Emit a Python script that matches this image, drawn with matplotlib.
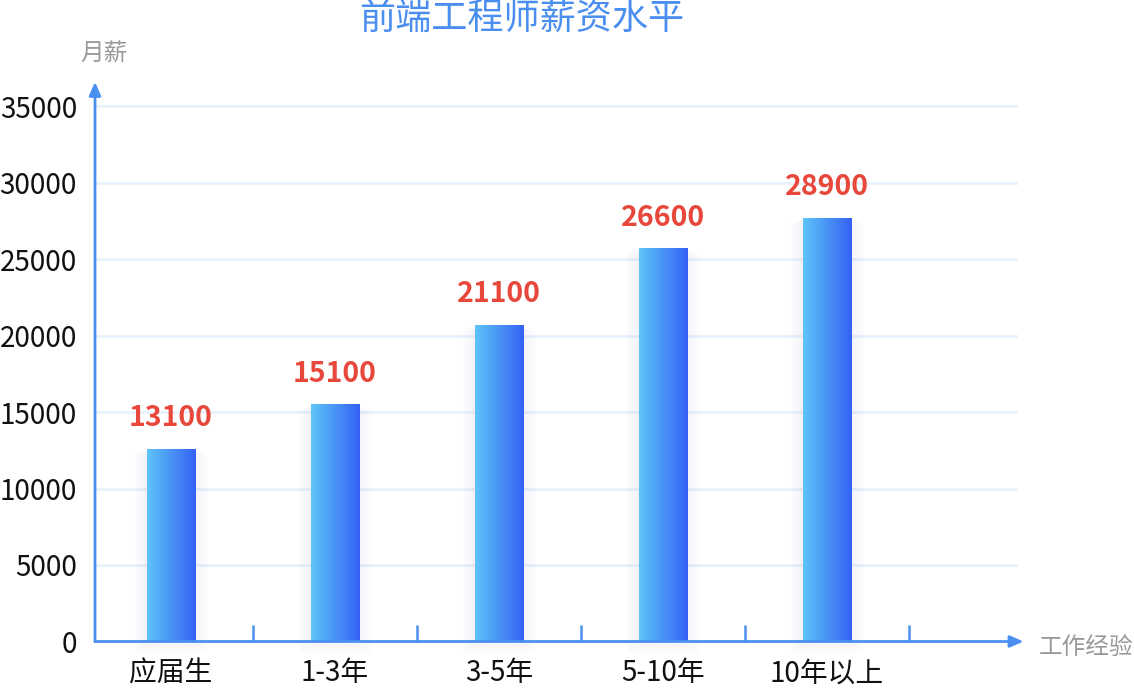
import numpy as np
import matplotlib.pyplot as plt
from matplotlib.colors import LinearSegmentedColormap
from matplotlib.patches import Rectangle

plt.rcParams['font.family'] = ['Noto Sans CJK SC', 'DejaVu Sans']

categories = ['应届生', '1-3年', '3-5年', '5-10年', '10年以上']
bar_values = [12600, 15500, 20700, 25700, 27700]   # drawn heights
label_values = [13100, 15100, 21100, 26600, 28900]  # printed numbers
y_ticks = [0, 5000, 10000, 15000, 20000, 25000, 30000, 35000]

axis_blue = '#4a90f0'
grid_color = '#e9f1fc'
red = '#e8473b'
grad = LinearSegmentedColormap.from_list('bar', ['#5ec5f8', '#3461f4'])

fig = plt.figure(figsize=(11.34, 6.88), dpi=100)
W, H = 1134, 688
# axes placed in pixels: x from 95 to 1018, y from 90.7 to 641.5
ax = fig.add_axes([95 / W, (H - 641.5) / H, (1018 - 95) / W, (641.5 - 90.7) / H])
x = np.arange(len(categories))

for s in ax.spines.values():
    s.set_visible(False)

# gridlines
for v in y_ticks[1:]:
    ax.axhline(v, color=grid_color, lw=2, zorder=0)

# axis lines with arrows
arrow = dict(arrowstyle='-|>,head_length=0.8,head_width=0.35',
             color=axis_blue, lw=2, shrinkA=0, shrinkB=0)
ax.annotate('', xy=(1.006, 0), xytext=(0, 0), xycoords='axes fraction',
            arrowprops=arrow, zorder=5)
ax.annotate('', xy=(0, 1.016), xytext=(0, 0), xycoords='axes fraction',
            arrowprops=arrow, zorder=5)

# ticks: boundaries as major (marks only), centres as minor (labels only)
ax.set_xticks(x + 0.5)
ax.set_xticklabels([])
ax.tick_params(axis='x', which='major', direction='in', length=12.5, width=1.8,
               color=axis_blue)
ax.set_xticks(x, minor=True)
ax.set_xticklabels(categories, minor=True, fontsize=20, color='#111111')
ax.tick_params(axis='x', which='minor', length=0, pad=12)
ax.set_yticks(y_ticks)
ax.set_yticklabels([str(v) for v in y_ticks], fontsize=20, color='#111111')
ax.tick_params(axis='y', length=0, pad=13)

# bars with horizontal gradient and soft shadow
width = 0.293
bars = ax.bar(x, bar_values, width=width, color='none', zorder=3)
gradient = np.linspace(0, 1, 256).reshape(1, -1)
for b in bars:
    x0, w, h = b.get_x(), b.get_width(), b.get_height()
    for k in range(1, 7):
        dx = k * 0.013
        ax.add_patch(Rectangle((x0 - dx, -k * 120), w + 2 * dx, h + k * 60,
                               facecolor='#8a95b5', edgecolor='none',
                               alpha=0.01, zorder=2, clip_on=False))
    im = ax.imshow(gradient, cmap=grad, aspect='auto',
                   extent=(x0, x0 + w, 0, h), zorder=3)
    im.set_clip_path(b)

ax.set_xlim(-0.4634, 5.165)
ax.set_ylim(0, 36000)

for xi, h, lab in zip(x, bar_values, label_values):
    ax.annotate(str(lab), (xi, h), xytext=(0, 22), textcoords='offset points',
                ha='center', va='center', fontsize=20.5, fontweight='bold',
                color=red, zorder=6)

fig.text(522 / W, 1 - 19 / H, '前端工程师薪资水平', ha='center', va='center',
         fontsize=26, color='#4a8ef0', fontweight='medium')
fig.text(104 / W, 1 - 54 / H, '月薪', ha='center', va='center',
         fontsize=17, color='#999999', style='italic')
fig.text(1086 / W, 1 - 647 / H, '工作经验', ha='center', va='center',
         fontsize=17, color='#999999', style='italic')

fig.savefig('out.png', dpi=100)
